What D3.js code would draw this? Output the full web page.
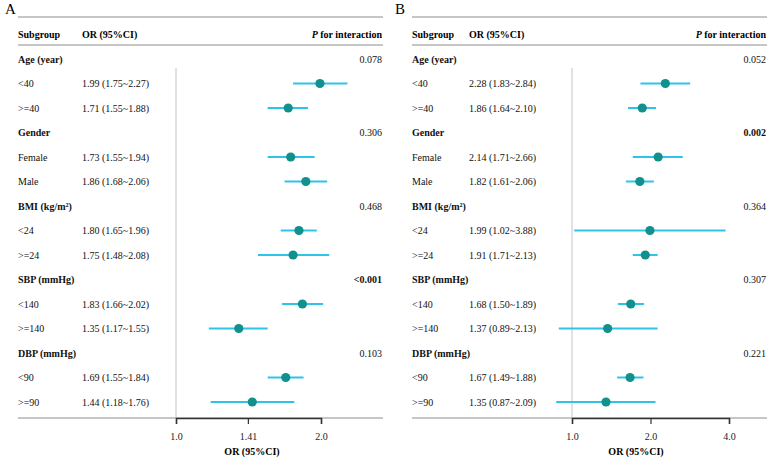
<!DOCTYPE html>
<html>
<head>
<meta charset="utf-8">
<script src="https://cdn.jsdelivr.net/npm/d3@7"></script>
<style>
  body { margin: 0; background: #fff; }
  svg { display: block; font-family: "Liberation Serif", "Times New Roman", serif; }
</style>
</head>
<body>
<svg id="chart" width="767" height="459"></svg>
<script>
var rowLabels = ['Age (year)', '<40', '>=40', 'Gender', 'Female', 'Male', 'BMI (kg/m\u00b2)', '<24', '>=24',
                 'SBP (mmHg)', '<140', '>=140', 'DBP (mmHg)', '<90', '>=90'];
var isHeader = [1, 0, 0, 1, 0, 0, 1, 0, 0, 1, 0, 0, 1, 0, 0];

var orA   = [null, 1.99, 1.71, null, 1.73, 1.86, null, 1.80, 1.75, null, 1.83, 1.35, null, 1.69, 1.44];
var lowA  = [null, 1.75, 1.55, null, 1.55, 1.68, null, 1.65, 1.48, null, 1.66, 1.17, null, 1.55, 1.18];
var highA = [null, 2.27, 1.88, null, 1.94, 2.06, null, 1.96, 2.08, null, 2.02, 1.55, null, 1.84, 1.76];
var pA    = ['0.078', '', '', '0.306', '', '', '0.468', '', '', '<0.001', '', '', '0.103', '', ''];
var pBoldA = ['<0.001'];
var ticksA = [1, 1.41, 2];
var tickLabelsA = ['1.0', '1.41', '2.0'];

var orB   = [null, 2.28, 1.86, null, 2.14, 1.82, null, 1.99, 1.91, null, 1.68, 1.37, null, 1.67, 1.35];
var lowB  = [null, 1.83, 1.64, null, 1.71, 1.61, null, 1.02, 1.71, null, 1.50, 0.89, null, 1.49, 0.87];
var highB = [null, 2.84, 2.10, null, 2.66, 2.06, null, 3.88, 2.13, null, 1.89, 2.13, null, 1.88, 2.09];
var pB    = ['0.052', '', '', '0.002', '', '', '0.364', '', '', '0.307', '', '', '0.221', '', ''];
var pBoldB = ['0.002'];
var ticksB = [1, 2, 4];
var tickLabelsB = ['1.0', '2.0', '4.0'];

var svg = d3.select('#chart');
var fmt = d3.format('.2f');

var y = d3.scalePoint()
    .domain(d3.range(rowLabels.length))
    .range([59, 402]);

function panel(o){
    var g = svg.append('g'),
        x = d3.scaleLog().domain([o.ticks[0], o.ticks[o.ticks.length - 1]]).range(o.xRange),
        rows = d3.range(rowLabels.length);

    g.append('text')
        .attr('x', o.letterX).attr('y', 14)
        .style('font-size', '15px')
        .text(o.letter);

    // table rules
    [17, 45, 418].forEach(function(ly){
        g.append('line')
            .attr('x1', o.left).attr('x2', o.right)
            .attr('y1', ly).attr('y2', ly)
            .attr('stroke', '#b3b3b3').attr('stroke-width', 1.5);
    });

    var head = g.append('g').style('font-size', '10px').style('font-weight', 'bold');
    head.append('text').attr('x', o.left).attr('y', 38).text('Subgroup');
    head.append('text').attr('x', o.orX).attr('y', 38).text('OR (95%CI)');
    var ph = head.append('text').attr('x', o.right - 1).attr('y', 38).attr('text-anchor', 'end');
    ph.append('tspan').style('font-style', 'italic').text('P');
    ph.append('tspan').text(' for interaction');

    g.append('line')
        .attr('x1', x(1)).attr('x2', x(1))
        .attr('y1', 68).attr('y2', 418)
        .attr('stroke', '#c4c4c4').attr('stroke-width', 1);

    var txt = g.append('g').style('font-size', '10px').attr('fill', '#111');

    txt.selectAll('text.lab')
        .data(rows)
        .enter().append('text')
        .attr('class', 'lab')
        .attr('x', o.left)
        .attr('y', function(i){ return y(i) + 3.5; })
        .style('font-weight', function(i){ return isHeader[i] ? 'bold' : 'normal'; })
        .text(function(i){ return rowLabels[i]; });

    txt.selectAll('text.or')
        .data(rows.filter(function(i){ return o.or[i] != null; }))
        .enter().append('text')
        .attr('class', 'or')
        .attr('x', o.orX)
        .attr('y', function(i){ return y(i) + 3.5; })
        .text(function(i){ return fmt(o.or[i]) + ' (' + fmt(o.low[i]) + '~' + fmt(o.high[i]) + ')'; });

    txt.selectAll('text.p')
        .data(rows.filter(function(i){ return o.p[i]; }))
        .enter().append('text')
        .attr('class', 'p')
        .attr('x', o.right - 1)
        .attr('y', function(i){ return y(i) + 3.5; })
        .attr('text-anchor', 'end')
        .style('font-weight', function(i){ return o.pBold.indexOf(o.p[i]) >= 0 ? 'bold' : 'normal'; })
        .text(function(i){ return o.p[i]; });

    var est = rows.filter(function(i){ return o.or[i] != null; });

    g.selectAll('line.ci')
        .data(est)
        .enter().append('line')
        .attr('class', 'ci')
        .attr('x1', function(i){ return x(o.low[i]); })
        .attr('x2', function(i){ return x(o.high[i]); })
        .attr('y1', function(i){ return y(i); })
        .attr('y2', function(i){ return y(i); })
        .attr('stroke', '#2ec4ea').attr('stroke-width', 2);

    g.selectAll('circle.pt')
        .data(est)
        .enter().append('circle')
        .attr('class', 'pt')
        .attr('cx', function(i){ return x(o.or[i]); })
        .attr('cy', function(i){ return y(i); })
        .attr('r', 4.6)
        .attr('fill', '#11908d');

    var ax = g.append('g')
        .attr('transform', 'translate(0,418)')
        .call(d3.axisBottom(x)
            .tickValues(o.ticks)
            .tickFormat(function(d, i){ return o.tickLabels[i]; })
            .tickSizeOuter(0)
            .tickSize(6)
            .tickPadding(9));
    ax.select('.domain').attr('stroke', '#333').attr('stroke-width', 1.5);
    ax.selectAll('.tick line').attr('stroke', '#333').attr('stroke-width', 1.2);
    ax.selectAll('.tick text')
        .style('font-family', '"Liberation Serif", serif')
        .style('font-size', '10px')
        .attr('fill', '#222');

    g.append('text')
        .attr('x', o.titleX).attr('y', 455)
        .attr('text-anchor', 'middle')
        .style('font-size', '10px').style('font-weight', 'bold')
        .text('OR (95%CI)');
}

panel({
    letter: 'A', letterX: 5, left: 18, right: 383, orX: 82,
    or: orA, low: lowA, high: highA, p: pA, pBold: pBoldA,
    ticks: ticksA, tickLabels: tickLabelsA, xRange: [176, 321], titleX: 252
});

panel({
    letter: 'B', letterX: 395, left: 412, right: 767, orX: 469,
    or: orB, low: lowB, high: highB, p: pB, pBold: pBoldB,
    ticks: ticksB, tickLabels: tickLabelsB, xRange: [572, 729], titleX: 636
});
</script>
</body>
</html>
